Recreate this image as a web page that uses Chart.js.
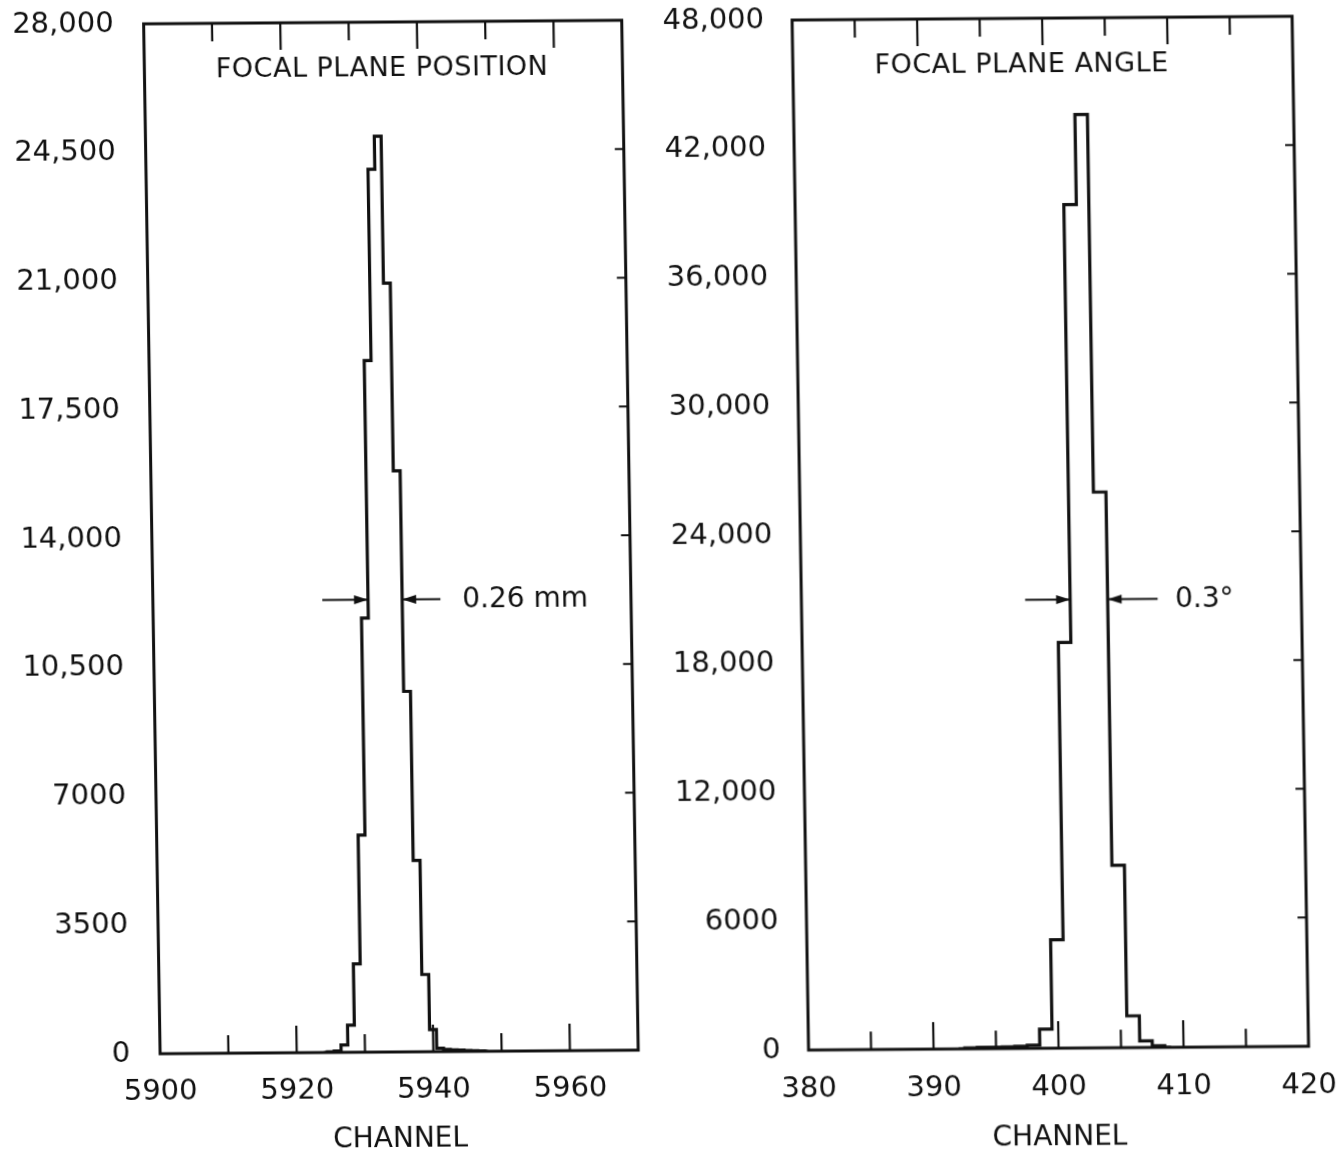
<!DOCTYPE html>
<html>
<head>
<meta charset="utf-8">
<script src="https://cdn.jsdelivr.net/npm/chart.js@4.4.1/dist/chart.umd.min.js"></script>
<style>
html, body { margin: 0; padding: 0; background: #fff; }
#page { position: relative; width: 1337px; height: 1158px; background: #fff;
        transform-origin: 668px 579px; transform: matrix(1, -0.0075, 0.016, 1, 0, 0); }
#leftBox { position: absolute; left: 0; top: 0; width: 650px; height: 1158px; }
#rightBox { position: absolute; left: 650px; top: 0; width: 687px; height: 1158px; }
</style>
</head>
<body>
<div id="page">
  <div id="leftBox"><canvas id="posChart"></canvas></div>
  <div id="rightBox"><canvas id="angChart"></canvas></div>
</div>
<script>
// focal plane position histogram (counts per channel)
const posChannels = [5924, 5925, 5926, 5927, 5928, 5929, 5930, 5931, 5932, 5933, 5934, 5935, 5936,
                     5937, 5938, 5939, 5940, 5941, 5942, 5943, 5944, 5945, 5946, 5947, 5948];
const posCounts = [0, 20, 40, 200, 740, 2400, 5900, 11800, 18800, 24000, 24900, 20900, 15800,
                   9800, 5200, 2100, 600, 90, 60, 45, 35, 25, 15, 8, 0];
const posYTicks = [0, 3500, 7000, 10500, 14000, 17500, 21000, 24500, 28000];
const posYLabels = ['0', '3500', '7000', '10,500', '14,000', '17,500', '21,000', '24,500', '28,000'];
const posXLabels = [5900, 5920, 5940, 5960];
const posXMarks = [5910, 5920, 5930, 5940, 5950, 5960];

// focal plane angle histogram
const angChannels = [392, 393, 394, 395, 396, 397, 398, 399, 400, 401, 402, 403, 404, 405, 406, 407, 408, 409];
const angCounts = [0, 40, 60, 60, 80, 100, 150, 890, 5050, 18900, 39300, 43500, 25900, 8500, 1480, 310, 80, 0];
const angYTicks = [0, 6000, 12000, 18000, 24000, 30000, 36000, 42000, 48000];
const angYLabels = ['0', '6000', '12,000', '18,000', '24,000', '30,000', '36,000', '42,000', '48,000'];
const angXLabels = [380, 390, 400, 410, 420];
const angXMarks = [385, 390, 395, 400, 405, 410, 415];

// width markers (arrows at the level, from tail to tip)
const posArrowLevel = 12300;
const posArrowTails = [5924.8, 5942.1];
const posArrowTips = [5931.5, 5936.5];
const angArrowLevel = 20900;
const angArrowTails = [397.9, 408.5];
const angArrowTips = [401.5, 404.5];

const FONT = 'DejaVu Sans';
const INK = '#111';

function drawArrow(ctx, x0, x1, y) {
    ctx.beginPath();
    ctx.moveTo(x0, y);
    ctx.lineTo(x1, y);
    ctx.stroke();
    const d = Math.sign(x1 - x0);
    ctx.beginPath();
    ctx.moveTo(x1, y);
    ctx.lineTo(x1 - d * 14, y - 4.5);
    ctx.lineTo(x1 - d * 14, y + 4.5);
    ctx.closePath();
    ctx.fill();
}

const framePlugin = {
    id: 'frame',
    afterDatasetsDraw(chart, args, o) {
        const ctx = chart.ctx, a = chart.chartArea;
        const xs = chart.scales.x, ys = chart.scales.y;
        ctx.save();
        ctx.strokeStyle = INK;
        ctx.fillStyle = INK;
        ctx.lineWidth = 3;
        ctx.strokeRect(a.left, a.top, a.right - a.left, a.bottom - a.top);

        // inward tick marks
        ctx.lineWidth = 2.2;
        ctx.beginPath();
        o.xMarks.forEach(v => {
            const x = xs.getPixelForValue(v);
            const len = o.xLabels.includes(v) ? 27 : 18;
            ctx.moveTo(x, a.top); ctx.lineTo(x, a.top + len);
            ctx.moveTo(x, a.bottom); ctx.lineTo(x, a.bottom - len);
        });
        o.yTicks.forEach(v => {
            const y = ys.getPixelForValue(v);
            ctx.moveTo(a.right, y); ctx.lineTo(a.right - 9, y);
        });
        ctx.stroke();

        // panel title inside the frame
        ctx.font = '27px "' + FONT + '"';
        ctx.letterSpacing = '0.5px';
        ctx.textAlign = 'center';
        ctx.textBaseline = 'middle';
        ctx.fillText(o.title, xs.getPixelForValue(o.titleAt), a.top + 47);
        ctx.letterSpacing = '0px';

        // width arrows and label
        ctx.lineWidth = 2;
        const ay = ys.getPixelForValue(o.level);
        for (let i = 0; i < o.tails.length; i++) {
            drawArrow(ctx, xs.getPixelForValue(o.tails[i]), xs.getPixelForValue(o.tips[i]), ay);
        }
        ctx.font = '28px "' + FONT + '"';
        ctx.textAlign = 'left';
        ctx.fillText(o.widthText, xs.getPixelForValue(o.widthAt), ay + 1);
        ctx.restore();
    }
};

function makeChart(id, channels, counts, xr, yTicks, yLabels, xLabels, xMarks, fit, frameOpts) {
    return new Chart(document.getElementById(id), {
        type: 'line',
        data: {
            datasets: [{
                data: channels.map((c, i) => ({ x: c, y: counts[i] })),
                stepped: 'middle',
                borderColor: INK,
                borderWidth: 3.2,
                pointRadius: 0,
                fill: false
            }]
        },
        options: {
            responsive: true,
            maintainAspectRatio: false,
            animation: false,
            events: [],
            layout: { padding: { left: 0, top: fit.top, right: fit.right, bottom: 0 } },
            plugins: { legend: { display: false }, tooltip: { enabled: false }, frame: frameOpts },
            scales: {
                x: {
                    type: 'linear', min: xr[0], max: xr[1],
                    afterBuildTicks: s => { s.ticks = xLabels.map(v => ({ value: v })); },
                    afterFit: s => { s.height = fit.xHeight; s.paddingLeft = 0; s.paddingRight = 0; },
                    ticks: {
                        callback: v => String(v), autoSkip: false, maxRotation: 0,
                        padding: fit.xPad, color: INK, font: { family: FONT, size: 29 }
                    },
                    grid: { display: false, drawTicks: false },
                    border: { display: false },
                    title: {
                        display: true, text: 'CHANNEL', color: INK,
                        font: { family: FONT, size: 28 }, padding: { top: 0, bottom: fit.titlePad }
                    }
                },
                y: {
                    type: 'linear', min: yTicks[0], max: yTicks[yTicks.length - 1],
                    afterBuildTicks: s => { s.ticks = yTicks.map(v => ({ value: v })); },
                    afterFit: s => { s.width = fit.yWidth; s.paddingTop = 0; s.paddingBottom = 0; },
                    ticks: {
                        callback: v => yLabels[yTicks.indexOf(v)], autoSkip: false,
                        padding: fit.yPad, color: INK, font: { family: FONT, size: 29 }
                    },
                    grid: { display: false, drawTicks: false },
                    border: { display: false }
                }
            }
        },
        plugins: [framePlugin]
    });
}

makeChart('posChart', posChannels, posCounts, [5900, 5970], posYTicks, posYLabels, posXLabels, posXMarks,
    { top: 20, right: 19.3, xHeight: 108, xPad: 21.5, titlePad: 3, yWidth: 152.6, yPad: 30 },
    { xMarks: posXMarks, xLabels: posXLabels, yTicks: posYTicks, title: 'FOCAL PLANE POSITION', titleAt: 5934.8,
      level: posArrowLevel, tails: posArrowTails, tips: posArrowTips, widthText: '0.26 mm', widthAt: 5945.3 });

makeChart('angChart', angChannels, angCounts, [380, 420], angYTicks, angYLabels, angXLabels, angXMarks,
    { top: 21, right: 36, xHeight: 107, xPad: 22.5, titlePad: 0, yWidth: 151, yPad: 28 },
    { xMarks: angXMarks, xLabels: angXLabels, yTicks: angYTicks, title: 'FOCAL PLANE ANGLE', titleAt: 398.3,
      level: angArrowLevel, tails: angArrowTails, tips: angArrowTips, widthText: '0.3°', widthAt: 409.9 });
</script>
</body>
</html>
